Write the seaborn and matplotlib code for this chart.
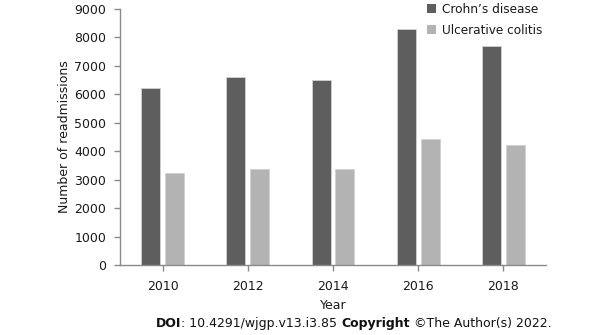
import matplotlib
matplotlib.use("Agg")
import matplotlib.pyplot as plt
import seaborn as sns
import pandas as pd

years = ["2010", "2012", "2014", "2016", "2018"]
crohns = [6220, 6610, 6490, 8300, 7700]
uc = [3250, 3380, 3390, 4430, 4210]
series_names = ["Crohn\u2019s disease", "Ulcerative colitis"]
yticks = [0, 1000, 2000, 3000, 4000, 5000, 6000, 7000, 8000, 9000]

df = pd.DataFrame({
    "Year": years * 2,
    "Readmissions": crohns + uc,
    "Disease": [series_names[0]] * len(years) + [series_names[1]] * len(years),
})

sns.set_style("white")
plt.rcParams["font.family"] = ["DejaVu Sans"]

FS = 9.0
fig = plt.figure(figsize=(6.10, 3.35), dpi=100)
ax = fig.add_axes([120 / 610, 1 - 265 / 335, (546 - 120) / 610, (265 - 9) / 335])

sns.barplot(data=df, x="Year", y="Readmissions", hue="Disease", order=years,
            hue_order=series_names, palette=["#5e5e5e", "#b3b3b3"],
            width=0.56, gap=0.2, edgecolor="#d2d2d2", linewidth=0.6,
            saturation=1, ax=ax)

ax.set_xlim(-0.5, len(years) - 0.5)
ax.set_ylim(0, 9000)
ax.set_yticks(yticks)
ax.set_yticklabels([str(v) for v in yticks])

for s in ["top", "right"]:
    ax.spines[s].set_visible(False)
for s in ["left", "bottom"]:
    ax.spines[s].set_color("#8a8a8a")
    ax.spines[s].set_linewidth(1.0)

ax.tick_params(axis="both", which="major", direction="out", length=4, width=1,
               bottom=True, left=True,
               color="#8a8a8a", labelsize=FS, labelcolor="#1a1a1a")
ax.tick_params(axis="y", pad=6)
ax.tick_params(axis="x", pad=7)

ax.set_xlabel("Year", fontsize=FS, color="#1a1a1a", labelpad=4)
ax.set_ylabel("Number of readmissions", fontsize=FS, color="#1a1a1a", labelpad=2)

leg = ax.legend(loc="upper left", bbox_to_anchor=(426 / 610, 1 - 2 / 335),
                bbox_transform=fig.transFigure, frameon=False, fontsize=8.7,
                handlelength=0.75, handleheight=0.75, handletextpad=0.55,
                labelspacing=0.7, borderpad=0.05, borderaxespad=0)
for h in leg.legend_handles:
    h.set_edgecolor("none")
for t in leg.get_texts():
    t.set_color("#1a1a1a")

DFS = 9.0
t1 = fig.text(156 / 610, 1 - 330 / 335, "DOI", fontsize=DFS, fontweight="bold",
              color="#111111", va="bottom", ha="left")
an2 = ax.annotate(": 10.4291/wjgp.v13.i3.85 ", xy=(1, 0), xycoords=t1,
                  va="bottom", ha="left", fontsize=DFS, color="#111111",
                  annotation_clip=False)
an3 = ax.annotate("Copyright", xy=(1, 0), xycoords=an2, va="bottom", ha="left",
                  fontsize=DFS, fontweight="bold", color="#111111",
                  annotation_clip=False)
an4 = ax.annotate(" \u00a9The Author(s) 2022.", xy=(1, 0), xycoords=an3,
                  va="bottom", ha="left", fontsize=DFS, color="#111111",
                  annotation_clip=False)

fig.savefig("out.png", dpi=100)
